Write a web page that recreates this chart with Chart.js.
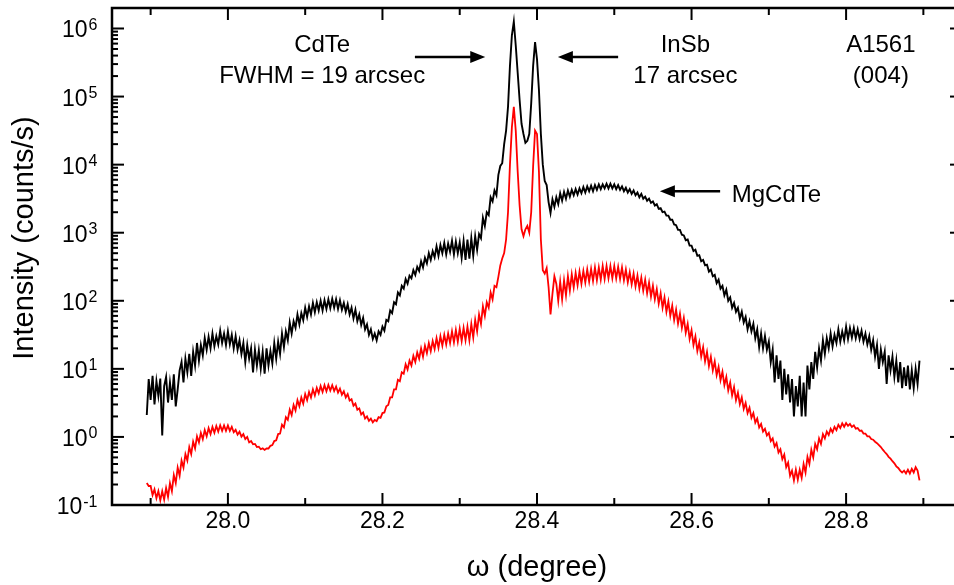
<!DOCTYPE html>
<html lang="en">
<head>
<meta charset="UTF-8">
<title>A1561 (004) rocking curve</title>
<script src="https://cdn.jsdelivr.net/npm/chart.js"></script>
<style>
  html, body { margin: 0; padding: 0; background: #fff; overflow: hidden; }
  #xrd { display: block; }
</style>
</head>
<body>
<canvas id="xrd" width="963" height="585"></canvas>
<script>
// omega (degree), one sample every 0.0025
const omega = [
  27.895, 27.8975,
  27.9, 27.9025, 27.905, 27.9075,
  27.91, 27.9125, 27.915, 27.9175,
  27.92, 27.9225, 27.925, 27.9275,
  27.93, 27.9325, 27.935, 27.9375,
  27.94, 27.9425, 27.945, 27.9475,
  27.95, 27.9525, 27.955, 27.9575,
  27.96, 27.9625, 27.965, 27.9675,
  27.97, 27.9725, 27.975, 27.9775,
  27.98, 27.9825, 27.985, 27.9875,
  27.99, 27.9925, 27.995, 27.9975,
  28.0, 28.0025, 28.005, 28.0075,
  28.01, 28.0125, 28.015, 28.0175,
  28.02, 28.0225, 28.025, 28.0275,
  28.03, 28.0325, 28.035, 28.0375,
  28.04, 28.0425, 28.045, 28.0475,
  28.05, 28.0525, 28.055, 28.0575,
  28.06, 28.0625, 28.065, 28.0675,
  28.07, 28.0725, 28.075, 28.0775,
  28.08, 28.0825, 28.085, 28.0875,
  28.09, 28.0925, 28.095, 28.0975,
  28.1, 28.1025, 28.105, 28.1075,
  28.11, 28.1125, 28.115, 28.1175,
  28.12, 28.1225, 28.125, 28.1275,
  28.13, 28.1325, 28.135, 28.1375,
  28.14, 28.1425, 28.145, 28.1475,
  28.15, 28.1525, 28.155, 28.1575,
  28.16, 28.1625, 28.165, 28.1675,
  28.17, 28.1725, 28.175, 28.1775,
  28.18, 28.1825, 28.185, 28.1875,
  28.19, 28.1925, 28.195, 28.1975,
  28.2, 28.2025, 28.205, 28.2075,
  28.21, 28.2125, 28.215, 28.2175,
  28.22, 28.2225, 28.225, 28.2275,
  28.23, 28.2325, 28.235, 28.2375,
  28.24, 28.2425, 28.245, 28.2475,
  28.25, 28.2525, 28.255, 28.2575,
  28.26, 28.2625, 28.265, 28.2675,
  28.27, 28.2725, 28.275, 28.2775,
  28.28, 28.2825, 28.285, 28.2875,
  28.29, 28.2925, 28.295, 28.2975,
  28.3, 28.3025, 28.305, 28.3075,
  28.31, 28.3125, 28.315, 28.3175,
  28.32, 28.3225, 28.325, 28.3275,
  28.33, 28.3325, 28.335, 28.3375,
  28.34, 28.3425, 28.345, 28.3475,
  28.35, 28.3525, 28.355, 28.3575,
  28.36, 28.3625, 28.365, 28.3675,
  28.37, 28.3725, 28.375, 28.3775,
  28.38, 28.3825, 28.385, 28.3875,
  28.39, 28.3925, 28.395, 28.3975,
  28.4, 28.4025, 28.405, 28.4075,
  28.41, 28.4125, 28.415, 28.4175,
  28.42, 28.4225, 28.425, 28.4275,
  28.43, 28.4325, 28.435, 28.4375,
  28.44, 28.4425, 28.445, 28.4475,
  28.45, 28.4525, 28.455, 28.4575,
  28.46, 28.4625, 28.465, 28.4675,
  28.47, 28.4725, 28.475, 28.4775,
  28.48, 28.4825, 28.485, 28.4875,
  28.49, 28.4925, 28.495, 28.4975,
  28.5, 28.5025, 28.505, 28.5075,
  28.51, 28.5125, 28.515, 28.5175,
  28.52, 28.5225, 28.525, 28.5275,
  28.53, 28.5325, 28.535, 28.5375,
  28.54, 28.5425, 28.545, 28.5475,
  28.55, 28.5525, 28.555, 28.5575,
  28.56, 28.5625, 28.565, 28.5675,
  28.57, 28.5725, 28.575, 28.5775,
  28.58, 28.5825, 28.585, 28.5875,
  28.59, 28.5925, 28.595, 28.5975,
  28.6, 28.6025, 28.605, 28.6075,
  28.61, 28.6125, 28.615, 28.6175,
  28.62, 28.6225, 28.625, 28.6275,
  28.63, 28.6325, 28.635, 28.6375,
  28.64, 28.6425, 28.645, 28.6475,
  28.65, 28.6525, 28.655, 28.6575,
  28.66, 28.6625, 28.665, 28.6675,
  28.67, 28.6725, 28.675, 28.6775,
  28.68, 28.6825, 28.685, 28.6875,
  28.69, 28.6925, 28.695, 28.6975,
  28.7, 28.7025, 28.705, 28.7075,
  28.71, 28.7125, 28.715, 28.7175,
  28.72, 28.7225, 28.725, 28.7275,
  28.73, 28.7325, 28.735, 28.7375,
  28.74, 28.7425, 28.745, 28.7475,
  28.75, 28.7525, 28.755, 28.7575,
  28.76, 28.7625, 28.765, 28.7675,
  28.77, 28.7725, 28.775, 28.7775,
  28.78, 28.7825, 28.785, 28.7875,
  28.79, 28.7925, 28.795, 28.7975,
  28.8, 28.8025, 28.805, 28.8075,
  28.81, 28.8125, 28.815, 28.8175,
  28.82, 28.8225, 28.825, 28.8275,
  28.83, 28.8325, 28.835, 28.8375,
  28.84, 28.8425, 28.845, 28.8475,
  28.85, 28.8525, 28.855, 28.8575,
  28.86, 28.8625, 28.865, 28.8675,
  28.87, 28.8725, 28.875, 28.8775,
  28.88, 28.8825, 28.885, 28.8875,
  28.89, 28.8925, 28.895
];

// black curve, counts/s
const countsBlack = [
  2.1, 7.1,
  3.5, 7.9, 3.0, 6.6,
  4.0, 7.2, 1.05, 5.6,
  7.6, 3.2, 6.3, 3.5,
  8.3, 2.8, 5.0, 9.5,
  12.6, 6.3, 14.1, 8.9,
  16.6, 7.9, 17.8, 11.2,
  24, 13.2, 22.4, 15.8,
  28.2, 19.1, 29.5, 20,
  33, 21.4, 30.2, 22.9,
  36.3, 24, 33, 22.4,
  35.5, 22.9, 31.6, 20,
  30.2, 19.1, 26.3, 16.6,
  24, 12.6, 22.4, 14.1,
  20, 8.9, 19.1, 11.2,
  18.6, 10, 17.8, 8.5,
  20, 11.2, 18.2, 12,
  24, 14.1, 25.1, 16.6,
  33, 20.9, 35.5, 26.3,
  48, 33, 50, 40,
  63, 45, 66, 52,
  79, 58, 83, 63,
  93, 68, 95, 72,
  100, 72, 102, 76,
  105, 78, 107, 79,
  105, 76, 102, 74,
  93, 69, 89, 63,
  79, 55, 74, 50,
  63, 44, 56, 38,
  45, 31.6, 38, 27.5,
  33, 26.3, 35.5, 31.6,
  41.7, 36.3, 52.5, 50,
  72, 66, 95, 89,
  132, 120, 166, 151,
  209, 178, 234, 214,
  282, 240, 316, 275,
  380, 309, 427, 355,
  501, 398, 537, 437,
  631, 457, 661, 501,
  708, 479, 692, 525,
  759, 479, 741, 501,
  724, 427, 759, 398,
  794, 417, 832, 457,
  891, 562, 955, 832,
  1660, 1260, 2000, 1820,
  3310, 2880, 4170, 3550,
  7080, 9550, 10500, 20000,
  31600, 70800, 282000, 794000,
  1260000, 562000, 224000, 89100,
  39800, 28200, 20900, 22400,
  28200, 79400, 282000, 631000,
  355000, 126000, 28200, 10000,
  5750, 5010, 2820, 1950,
  3090, 2400, 3310, 2630,
  3800, 2950, 3980, 3160,
  4170, 3390, 4270, 3550,
  4370, 3630, 4470, 3800,
  4680, 3890, 4790, 4070,
  4900, 4070, 5010, 4270,
  5130, 4370, 5130, 4470,
  5250, 4470, 5250, 4470,
  5130, 4370, 5010, 4270,
  4790, 4070, 4570, 3890,
  4370, 3720, 4170, 3550,
  3890, 3310, 3720, 3160,
  3390, 2950, 3160, 2750,
  2880, 2510, 2630, 2240,
  2290, 2000, 2040, 1780,
  1780, 1550, 1550, 1320,
  1290, 1100, 1100, 933,
  912, 776, 794, 646,
  646, 537, 562, 457,
  468, 380, 398, 331,
  339, 269, 288, 229,
  240, 182, 204, 151,
  166, 120, 145, 100,
  112, 79, 93, 69,
  79, 55, 69, 48,
  58, 38, 50, 35.5,
  46, 28.2, 38, 20.9,
  33, 20, 30.2, 19.1,
  25.1, 12.6, 19.1, 6.3,
  15.8, 7.1, 13.2, 3.5,
  10, 4.2, 8.3, 3.2,
  7.1, 2.0, 5.6, 2.8,
  7.9, 2.0, 6.3, 2.0,
  11.2, 5.0, 12.6, 7.1,
  17.8, 10.5, 20, 13.2,
  26.3, 16.6, 28.2, 20,
  33, 21.4, 31.6, 24,
  38, 25.1, 35.5, 26.3,
  41.7, 27.5, 39.8, 28.8,
  39.8, 28.2, 38, 27.5,
  36.3, 25.1, 33, 22.9,
  30.2, 19.1, 26.3, 15.1,
  22.4, 10, 19.1, 12.6,
  17.8, 6.0, 15.8, 9.5,
  15.1, 7.6, 13.2, 6.3,
  12.6, 5.2, 10.5, 5.6,
  11.2, 5.0, 9.5, 5.2,
  10, 6.0, 13.2
];

// red curve, counts/s
const countsRed = [
  0.21, 0.19,
  0.19, 0.14, 0.17, 0.126,
  0.16, 0.117, 0.16, 0.12,
  0.178, 0.132, 0.21, 0.16,
  0.275, 0.21, 0.355, 0.27,
  0.45, 0.355, 0.56, 0.45,
  0.71, 0.56, 0.85, 0.68,
  1.02, 0.83, 1.15, 0.93,
  1.26, 1.02, 1.35, 1.10,
  1.40, 1.15, 1.45, 1.20,
  1.48, 1.23, 1.48, 1.23,
  1.48, 1.23, 1.41, 1.17,
  1.27, 1.08, 1.19, 1.01,
  1.10, 0.93, 1.00, 0.83,
  0.87, 0.78, 0.79, 0.71,
  0.72, 0.66, 0.68, 0.645,
  0.676, 0.676, 0.74, 0.76,
  0.87, 0.89, 1.10, 1.12,
  1.51, 1.38, 1.95, 1.78,
  2.51, 2.09, 2.95, 2.45,
  3.47, 2.82, 3.80, 3.09,
  4.27, 3.47, 4.57, 3.80,
  5.0, 4.07, 5.25, 4.37,
  5.6, 4.57, 5.75, 4.68,
  5.8, 4.79, 5.75, 4.73,
  5.5, 4.47, 5.13, 4.17,
  4.68, 3.80, 4.27, 3.43,
  3.59, 2.88, 3.09, 2.51,
  2.63, 2.14, 2.29, 1.86,
  2.00, 1.72, 1.86, 1.64,
  1.78, 1.70, 1.95, 1.91,
  2.24, 2.29, 2.82, 2.95,
  3.80, 3.80, 5.0, 5.0,
  6.9, 6.6, 8.9, 8.5,
  11.7, 9.8, 13.2, 11.2,
  15.5, 12.6, 17.4, 14.1,
  20, 15.1, 21.9, 17,
  24, 18.2, 25.7, 19.5,
  28.2, 20.4, 30.2, 21.9,
  31.6, 22.9, 33.1, 24,
  35.5, 24.5, 37.2, 25.1,
  38.9, 25.7, 39.8, 26.3,
  41.7, 26.3, 45.7, 28.8,
  52.5, 35.5, 63, 45.7,
  83, 60, 95, 79,
  132, 105, 166, 158,
  224, 331, 417, 501,
  794, 2000, 10000, 35500,
  70800, 31600, 7940, 2510,
  1120, 891, 1120, 1260,
  1000, 2000, 9550, 31600,
  28200, 7940, 794, 282,
  251, 302, 158, 63,
  126, 229, 178, 100,
  191, 105, 200, 120,
  229, 141, 245, 158,
  257, 170, 269, 178,
  275, 186, 288, 191,
  295, 195, 309, 200,
  309, 204, 324, 209,
  324, 214, 324, 214,
  324, 214, 316, 209,
  309, 200, 288, 186,
  263, 174, 251, 162,
  234, 151, 219, 141,
  204, 129, 186, 115,
  166, 105, 148, 91,
  129, 79, 112, 69,
  98, 60, 85, 52,
  74, 46, 65, 40,
  56, 34, 46, 27.5,
  37, 22.4, 30, 18.2,
  24.5, 15.1, 20.9, 12.9,
  17.8, 11, 15.1, 9.5,
  12.9, 8.1, 10.7, 6.8,
  9.1, 5.75, 7.6, 4.8,
  6.3, 4.07, 5.4, 3.47,
  4.47, 3.02, 3.80, 2.57,
  3.16, 2.24, 2.69, 1.91,
  2.24, 1.62, 1.86, 1.38,
  1.55, 1.20, 1.32, 1.05,
  1.15, 0.87, 0.95, 0.72,
  0.81, 0.59, 0.66, 0.47,
  0.55, 0.36, 0.42, 0.27,
  0.32, 0.23, 0.33, 0.235,
  0.33, 0.25, 0.40, 0.30,
  0.51, 0.40, 0.65, 0.50,
  0.79, 0.66, 0.95, 0.79,
  1.10, 0.95, 1.20, 1.07,
  1.32, 1.17, 1.41, 1.26,
  1.51, 1.35, 1.58, 1.41,
  1.60, 1.45, 1.55, 1.40,
  1.48, 1.32, 1.35, 1.23,
  1.24, 1.12, 1.12, 1.02,
  1.02, 0.93, 0.91, 0.85,
  0.81, 0.76, 0.71, 0.65,
  0.60, 0.56, 0.51, 0.48,
  0.44, 0.41, 0.37, 0.35,
  0.32, 0.30, 0.32, 0.29,
  0.33, 0.29, 0.34, 0.30,
  0.36, 0.32, 0.23
];

const xTickValues = [28.0, 28.2, 28.4, 28.6, 28.8];
const xMinorValues = [27.9, 28.1, 28.3, 28.5, 28.7, 28.9];
const yTickExponents = [-1, 0, 1, 2, 3, 4, 5, 6];
const yMinorSteps = [2, 3, 4, 5, 6, 7, 8, 9];

// annotations, in data coordinates
const notes = [
  { text: 'CdTe', x: 28.122, y: 4.5e5, align: 'center' },
  { text: 'FWHM = 19 arcsec', x: 28.122, y: 1.57e5, align: 'center' },
  { text: 'InSb', x: 28.592, y: 4.5e5, align: 'center' },
  { text: '17 arcsec', x: 28.592, y: 1.57e5, align: 'center' },
  { text: 'A1561', x: 28.845, y: 4.5e5, align: 'center' },
  { text: '(004)', x: 28.845, y: 1.57e5, align: 'center' },
  { text: 'MgCdTe', x: 28.652, y: 2790, align: 'left' }
];
const arrows = [
  { x1: 28.242, x2: 28.333, y: 3.8e5 },
  { x1: 28.505, x2: 28.427, y: 3.8e5 },
  { x1: 28.637, x2: 28.559, y: 4050 }
];

const FONT = '"Liberation Sans", Arial, sans-serif';

// frame, inward ticks, superscript y labels, y title, annotations
const decorations = {
  id: 'decorations',
  afterDraw(chart) {
    const { ctx, chartArea: a, scales: { x, y } } = chart;
    ctx.save();
    ctx.strokeStyle = '#000';
    ctx.fillStyle = '#000';

    const seg = (x1, y1, x2, y2) => {
      ctx.beginPath(); ctx.moveTo(x1, y1); ctx.lineTo(x2, y2); ctx.stroke();
    };

    ctx.lineWidth = 2;
    xTickValues.forEach(v => {
      const px = x.getPixelForValue(v);
      seg(px, a.bottom, px, a.bottom - 12);
      seg(px, a.top, px, a.top + 12);
    });
    xMinorValues.forEach(v => {
      const px = x.getPixelForValue(v);
      seg(px, a.bottom, px, a.bottom - 7);
      seg(px, a.top, px, a.top + 7);
    });
    yTickExponents.forEach(e => {
      const py = y.getPixelForValue(Math.pow(10, e));
      seg(a.left, py, a.left + 12, py);
      seg(a.right, py, a.right - 12, py);
      yMinorSteps.forEach(m => {
        const v = m * Math.pow(10, e);
        if (v >= y.max) return;
        const pm = y.getPixelForValue(v);
        seg(a.left, pm, a.left + 6, pm);
        seg(a.right, pm, a.right - 6, pm);
      });
    });

    ctx.lineWidth = 2.5;
    ctx.strokeRect(a.left, a.top, a.right - a.left, a.bottom - a.top);

    // y tick labels 10^n
    ctx.textAlign = 'right';
    ctx.textBaseline = 'alphabetic';
    yTickExponents.forEach(e => {
      const py = y.getPixelForValue(Math.pow(10, e));
      const exp = String(e);
      const right = a.left - 14.5;
      ctx.font = '16px ' + FONT;
      const ew = ctx.measureText(exp).width;
      ctx.fillText(exp, right, py + 1.5);
      ctx.font = '23px ' + FONT;
      ctx.fillText('10', right - ew - 1, py + 9);
    });

    // y axis title
    ctx.save();
    ctx.translate(25, 238);
    ctx.rotate(-Math.PI / 2);
    ctx.textAlign = 'center';
    ctx.textBaseline = 'middle';
    ctx.font = '29px ' + FONT;
    ctx.fillText('Intensity (counts/s)', 0, 0);
    ctx.restore();

    // text notes
    ctx.font = '24px ' + FONT;
    ctx.textBaseline = 'alphabetic';
    notes.forEach(n => {
      ctx.textAlign = n.align;
      ctx.fillText(n.text, x.getPixelForValue(n.x), y.getPixelForValue(n.y));
    });

    // arrows
    ctx.lineWidth = 2.5;
    arrows.forEach(ar => {
      const x1 = x.getPixelForValue(ar.x1);
      const x2 = x.getPixelForValue(ar.x2);
      const py = y.getPixelForValue(ar.y);
      const dir = Math.sign(x2 - x1);
      seg(x1, py, x2 - dir * 12, py);
      ctx.beginPath();
      ctx.moveTo(x2, py);
      ctx.lineTo(x2 - dir * 15, py - 6);
      ctx.lineTo(x2 - dir * 15, py + 6);
      ctx.closePath();
      ctx.fill();
    });

    ctx.restore();
  }
};

const pairs = vals => omega.map((w, i) => ({ x: w, y: vals[i] }));

new Chart(document.getElementById('xrd'), {
  type: 'line',
  data: {
    datasets: [
      { label: 'black', data: pairs(countsBlack), borderColor: '#000000', borderWidth: 1.9, pointRadius: 0, tension: 0, fill: false },
      { label: 'red', data: pairs(countsRed), borderColor: '#ff0000', borderWidth: 1.8, pointRadius: 0, tension: 0, fill: false }
    ]
  },
  options: {
    responsive: false,
    animation: false,
    layout: { padding: { top: 8, right: 1, left: 0, bottom: 0 } },
    plugins: { legend: { display: false }, tooltip: { enabled: false } },
    scales: {
      x: {
        type: 'linear',
        min: 27.85,
        max: 28.95,
        grid: { display: false, drawTicks: false },
        border: { display: false },
        afterBuildTicks: s => { s.ticks = xTickValues.map(v => ({ value: v })); },
        ticks: {
          callback: v => v.toFixed(1),
          font: { family: FONT, size: 23 },
          color: '#000',
          padding: 3,
          maxRotation: 0,
          autoSkip: false
        },
        title: {
          display: true,
          text: 'ω (degree)',
          font: { family: FONT, size: 29 },
          color: '#000',
          padding: { top: 0, bottom: 0 }
        },
        afterFit: s => { s.height = 80; s.paddingLeft = 0; s.paddingRight = 0; }
      },
      y: {
        type: 'logarithmic',
        min: 0.1,
        max: 2e6,
        grid: { display: false, drawTicks: false },
        border: { display: false },
        ticks: { display: false },
        afterFit: s => { s.width = 112; s.paddingTop = 0; s.paddingBottom = 0; }
      }
    }
  },
  plugins: [decorations]
});
</script>
</body>
</html>
